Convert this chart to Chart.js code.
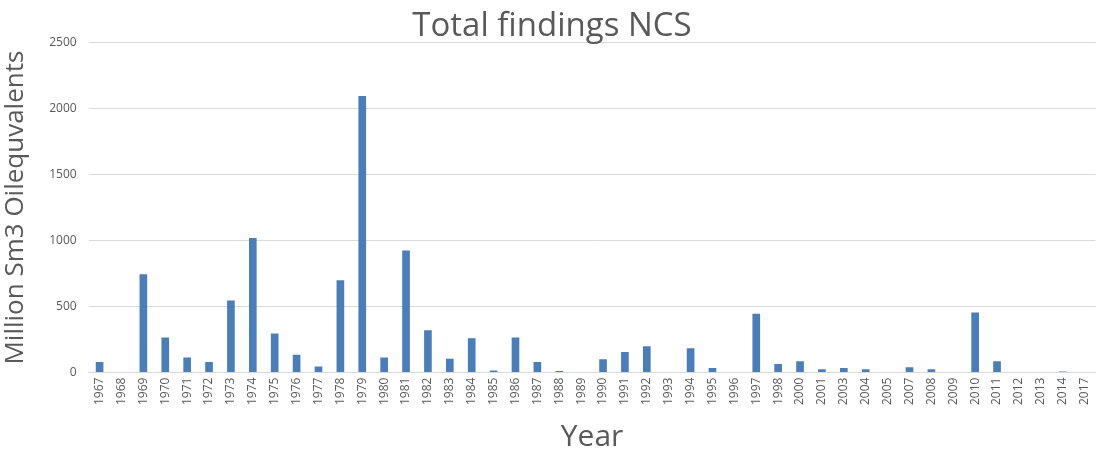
<!DOCTYPE html>
<html>
<head>
<meta charset="utf-8">
<script src="https://cdn.jsdelivr.net/npm/chart.js@4.4.1/dist/chart.umd.min.js"></script>
<style>
  html, body { margin: 0; padding: 0; background: #ffffff; overflow: hidden; }
  #wrap { position: relative; width: 1104px; height: 452px; }
</style>
</head>
<body>
<div id="wrap"><canvas id="chart"></canvas></div>
<script>
// Discovery years on the Norwegian continental shelf
const years = [
  '1967','1968','1969','1970','1971','1972','1973','1974','1975','1976',
  '1977','1978','1979','1980','1981','1982','1983','1984','1985','1986',
  '1987','1988','1989','1990','1991','1992','1993','1994','1995','1996',
  '1997','1998','2000','2001','2003','2004','2005','2007','2008','2009',
  '2010','2011','2012','2013','2014','2017'
];

// Total findings per year, million Sm3 oil equivalents
const findings = [
  80, 0, 745, 265, 115, 80, 545, 1020, 295, 135,
  45, 700, 2095, 115, 925, 320, 105, 260, 15, 265,
  80, 12, 0, 100, 155, 200, 0, 185, 35, 0,
  445, 65, 85, 25, 35, 25, 0, 40, 25, 0,
  455, 85, 0, 0, 8, 0
];

const yTicks = [0, 500, 1000, 1500, 2000, 2500];

const textGrey = '#595959';
const fontFamily = "'Open Sans', 'Liberation Sans', sans-serif";

new Chart(document.getElementById('chart'), {
  type: 'bar',
  data: {
    labels: years,
    datasets: [{
      label: 'Total findings',
      data: findings,
      backgroundColor: '#4a7ebb',
      borderWidth: 0,
      categoryPercentage: 1.0,
      barPercentage: 0.35
    }]
  },
  options: {
    responsive: true,
    maintainAspectRatio: false,
    animation: false,
    layout: { padding: { left: 0, right: 0, top: 0, bottom: 0 } },
    plugins: {
      legend: { display: false },
      tooltip: { enabled: false },
      title: {
        display: true,
        text: 'Total findings NCS',
        color: textGrey,
        font: { family: fontFamily, size: 33, weight: 'normal', lineHeight: 1.2 },
        padding: { top: 7, bottom: -4 }
      }
    },
    scales: {
      x: {
        grid: { display: false, drawTicks: false },
        border: { display: true, color: '#d9d9d9' },
        ticks: {
          color: textGrey,
          font: { family: fontFamily, size: 12 },
          minRotation: 90,
          maxRotation: 90,
          autoSkip: false,
          padding: 5
        },
        title: {
          display: true,
          text: 'Year',
          color: textGrey,
          font: { family: fontFamily, size: 30, lineHeight: 1.0 },
          padding: { top: 12, bottom: 0 }
        }
      },
      y: {
        min: 0,
        max: 2500,
        afterBuildTicks: (axis) => { axis.ticks = yTicks.map(v => ({ value: v })); },
        grid: { color: '#d9d9d9', drawTicks: false },
        border: { display: false },
        ticks: {
          color: textGrey,
          font: { family: fontFamily, size: 12 },
          padding: 12,
          callback: (v) => String(v)
        },
        title: {
          display: true,
          text: 'Million Sm3 Oilequvalents',
          color: textGrey,
          font: { family: fontFamily, size: 26 },
          padding: { top: 0, bottom: 6 }
        }
      }
    }
  }
});
</script>
</body>
</html>
